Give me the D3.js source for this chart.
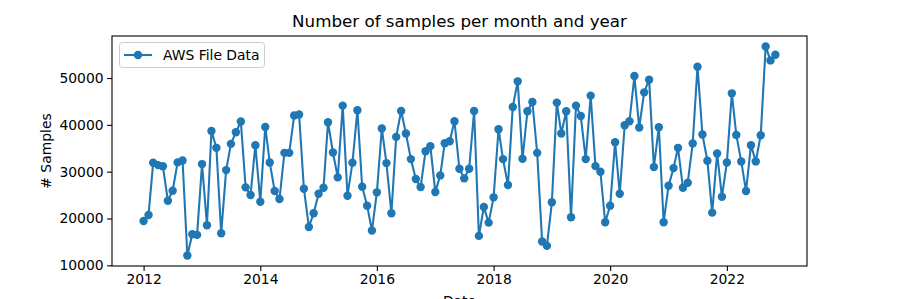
<!DOCTYPE html>
<html>
<head>
<meta charset="utf-8">
<script src="https://cdn.jsdelivr.net/npm/d3@7"></script>
<style>
  body { margin: 0; background: #fff; }
  svg { display: block; font-family: "DejaVu Sans", sans-serif; }
</style>
</head>
<body>
<svg id="chart" width="897" height="299"></svg>
<script>
// ---- data ----
const startYear = 2012;
const startMonth = 1;
const seriesName = "AWS File Data";
const samples = [
  19480, 20760, 31890, 31400, 31150, 23800, 25930, 31980, 32400, 12090, 16650, 16500,
  31620, 18560, 38700, 35090, 16860, 30340, 35940, 38430, 40710, 26650, 25020, 35660,
  23590, 39560, 31970, 25870, 24160, 34020, 34020, 41980, 42200, 26360, 18200, 21110,
  25300, 26570, 40560, 34100, 28780, 44110, 24870, 31890, 43110, 26780, 22740, 17420,
  25590, 39220, 31830, 21110, 37430, 42960, 38150, 32680, 28420, 26720, 34380, 35450,
  25650, 29200, 36090, 36510, 40770, 30620, 28570, 30620, 42960, 16290, 22460, 19120,
  24520, 39070, 32680, 27140, 43820, 49290, 32750, 42900, 44880, 34020, 15080, 14160,
  23460, 44750, 38150, 42900, 20270, 44110, 41900, 32680, 46240, 31190, 29980, 19200,
  22740, 36300, 25300, 39920, 40770, 50420, 39430, 46940, 49650, 30980, 39490, 19200,
  27000, 30760, 35090, 26570, 27640, 36020, 52420, 37940, 32320, 21250, 33890, 24650,
  31970, 46730, 37850, 32190, 25870, 35660, 32190, 37790, 56740, 53760, 54970
];
const yTicks = [10000, 20000, 30000, 40000, 50000];
const xTickYears = [2012, 2014, 2016, 2018, 2020, 2022];
const titleText = "Number of samples per month and year";
const xLabel = "Date";
const yLabel = "# Samples";

const data = samples.map((v, i) => ({ date: new Date(startYear, startMonth - 1 + i, 1), value: v }));

(function () {
// ---- layout ----
const svg = d3.select("#chart");
const mL = 112, mR = 807, mT = 36, mB = 266;
const color = "#1f77b4";

const xExt = d3.extent(data, d => d.date.getTime());
const xPad = (xExt[1] - xExt[0]) * 0.05;
const x = d3.scaleTime()
  .domain([new Date(xExt[0] - xPad), new Date(xExt[1] + xPad)])
  .range([mL, mR]);

const yExt = d3.extent(data, d => d.value);
const yPad = (yExt[1] - yExt[0]) * 0.05;
const y = d3.scaleLinear()
  .domain([yExt[0] - yPad, yExt[1] + yPad])
  .range([mB, mT]);

// axes
const xAxis = d3.axisBottom(x)
  .tickValues(xTickYears.map(yr => new Date(yr, 0, 1)))
  .tickFormat(d3.timeFormat("%Y"))
  .tickSize(4.9).tickPadding(3.5);
const gx = svg.append("g").attr("transform", `translate(0,${mB})`).call(xAxis);
gx.select(".domain").remove();
gx.selectAll("text").attr("font-size", 13.9).attr("fill", "#000").attr("font-family", "DejaVu Sans");
gx.selectAll("line").attr("stroke", "#000").attr("stroke-width", 1.1);

const yAxis = d3.axisLeft(y).tickValues(yTicks).tickFormat(d3.format("d"))
  .tickSize(4.9).tickPadding(3.5);
const gy = svg.append("g").attr("transform", `translate(${mL},0)`).call(yAxis);
gy.select(".domain").remove();
gy.selectAll("text").attr("font-size", 13.9).attr("fill", "#000").attr("font-family", "DejaVu Sans");
gy.selectAll("line").attr("stroke", "#000").attr("stroke-width", 1.1);

// line + markers
const line = d3.line().x(d => x(d.date)).y(d => y(d.value));
svg.append("path").datum(data)
  .attr("d", line).attr("fill", "none")
  .attr("stroke", color).attr("stroke-width", 2.08)
  .attr("stroke-linejoin", "round").attr("stroke-linecap", "square");
svg.append("g").selectAll("circle").data(data).join("circle")
  .attr("cx", d => x(d.date)).attr("cy", d => y(d.value))
  .attr("r", 4.2).attr("fill", color);

// frame
svg.append("rect").attr("x", mL).attr("y", mT)
  .attr("width", mR - mL).attr("height", mB - mT)
  .attr("fill", "none").attr("stroke", "#000").attr("stroke-width", 1.1);

// title & labels
svg.append("text").attr("x", (mL + mR) / 2).attr("y", 27)
  .attr("text-anchor", "middle").attr("font-size", 16.7).attr("fill", "#000")
  .text(titleText);
svg.append("text").attr("x", (mL + mR) / 2).attr("y", 306)
  .attr("text-anchor", "middle").attr("font-size", 13.9).attr("fill", "#000")
  .text(xLabel);
svg.append("text").attr("transform", `translate(51,${(mT + mB) / 2}) rotate(-90)`)
  .attr("text-anchor", "middle").attr("font-size", 13.9).attr("fill", "#000")
  .text(yLabel);

// legend
const lg = svg.append("g");
lg.append("rect").attr("x", 119.5).attr("y", 42.5).attr("width", 145).attr("height", 25)
  .attr("rx", 3).attr("fill", "#fff").attr("fill-opacity", 0.8)
  .attr("stroke", "#cccccc").attr("stroke-width", 1);
lg.append("line").attr("x1", 124).attr("x2", 152).attr("y1", 55).attr("y2", 55)
  .attr("stroke", color).attr("stroke-width", 2.08);
lg.append("circle").attr("cx", 138).attr("cy", 55).attr("r", 4.2).attr("fill", color);
lg.append("text").attr("x", 163).attr("y", 55).attr("dy", "0.35em")
  .attr("font-size", 13.9).attr("fill", "#000").text(seriesName);
})();
</script>
</body>
</html>
